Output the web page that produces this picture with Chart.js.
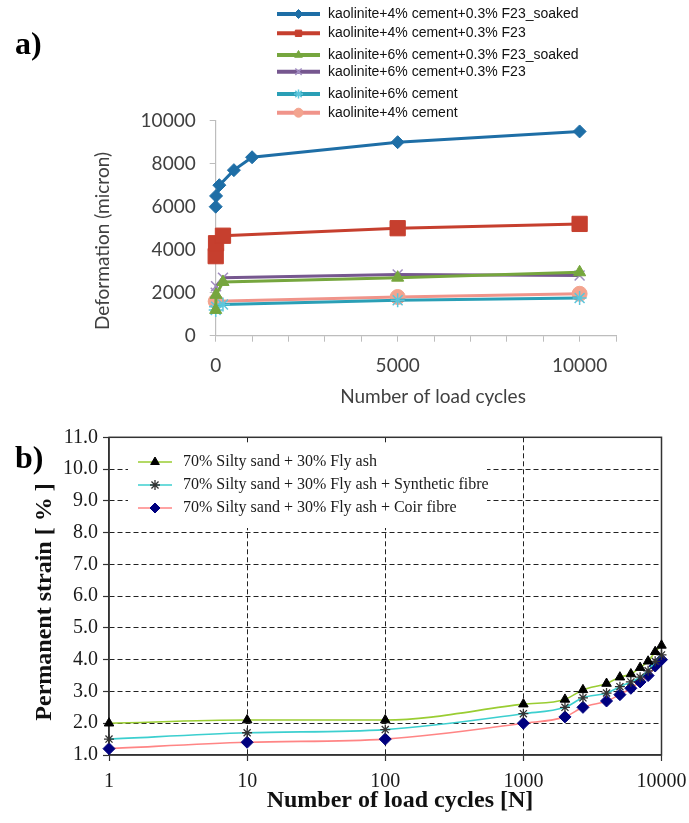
<!DOCTYPE html>
<html>
<head>
<meta charset="utf-8">
<title>Deformation and permanent strain vs load cycles</title>
<script src="https://cdn.jsdelivr.net/npm/chart.js"></script>
<style>
  html, body { margin: 0; padding: 0; background: #fff; }
  #page { position: relative; width: 689px; height: 823px; overflow: hidden; }
  canvas { position: absolute; left: 0; }
  #chartA { top: 0; }
  #chartB { top: 410px; }
  .tag { position: absolute; left: 15px; font: bold 32px 'Liberation Serif', 'Times New Roman', serif; color: #000; line-height: 1; }
</style>
</head>
<body>
<div id="page">
  <canvas id="chartA" width="689" height="410"></canvas>
  <canvas id="chartB" width="689" height="413"></canvas>
  <div class="tag" style="top:27px">a)</div>
  <div class="tag" style="top:441px">b)</div>
</div>
<script>
// ---- a) deformation (micron) against number of load cycles ----
const soaked4Cycles = [0, 10, 100, 500, 1000, 5000, 10000];
const soaked4Deform = [6000, 6500, 7000, 7700, 8300, 9000, 9500];
const f23_4Cycles = [0, 10, 200, 5000, 10000];
const f23_4Deform = [3700, 4300, 4650, 5000, 5200];
const soaked6Cycles = [0, 10, 200, 5000, 10000];
const soaked6Deform = [1200, 1900, 2500, 2700, 2950];
const f23_6Cycles = [0, 10, 200, 5000, 10000];
const f23_6Deform = [2000, 2300, 2700, 2850, 2800];
const cement6Cycles = [0, 10, 200, 5000, 10000];
const cement6Deform = [1200, 1350, 1450, 1650, 1750];
const cement4Cycles = [0, 5000, 10000];
const cement4Deform = [1600, 1800, 1950];
const mixLabelsA = [
  'kaolinite+4% cement+0.3% F23_soaked',
  'kaolinite+4% cement+0.3% F23',
  'kaolinite+6% cement+0.3% F23_soaked',
  'kaolinite+6% cement+0.3% F23',
  'kaolinite+6% cement',
  'kaolinite+4% cement'
];
const cycleTicksA = [0, 1000, 2000, 3000, 4000, 5000, 6000, 7000, 8000, 9000, 10000, 11000];
const cycleLabelsA = [0, 5000, 10000];

// ---- b) permanent strain (%) against number of load cycles ----
const cyclesB = [1, 10, 100, 1000, 2000, 2700, 4000, 5000, 6000, 7000, 8000, 9000, 10000];
const strainFlyAsh = [2.0, 2.1, 2.1, 2.6, 2.75, 3.05, 3.25, 3.45, 3.55, 3.75, 3.95, 4.25, 4.45];
const strainSynthetic = [1.5, 1.7, 1.8, 2.3, 2.5, 2.8, 2.95, 3.15, 3.3, 3.45, 3.65, 3.95, 4.15];
const strainCoir = [1.2, 1.4, 1.5, 2.0, 2.2, 2.5, 2.7, 2.9, 3.1, 3.3, 3.5, 3.8, 4.0];
const mixLabelsB = [
  '70% Silty sand + 30% Fly ash',
  '70% Silty sand + 30% Fly ash + Synthetic fibre',
  '70% Silty sand + 30% Fly ash + Coir fibre'
];
const cycleTicksB = [1, 10, 100, 1000, 10000];

const SANS = 'Lato, "Open Sans", sans-serif';
const SERIF = '"Liberation Serif", "Times New Roman", serif';

function pairs(xs, ys) {
  return xs.map((x, i) => ({ x: x, y: ys[i] }));
}

// legend drawn inside the canvas at fixed spots, one row per dataset
function insetLegend(cfg) {
  return {
    id: 'insetLegend',
    afterDraw(chart) {
      const ctx = chart.ctx;
      ctx.save();
      if (cfg.box) {
        ctx.fillStyle = '#fff';
        ctx.fillRect(cfg.box[0], cfg.box[1], cfg.box[2], cfg.box[3]);
      }
      ctx.font = cfg.font;
      ctx.textAlign = 'left';
      ctx.textBaseline = 'middle';
      chart.data.datasets.forEach((ds, i) => {
        const y = cfg.rows[i];
        ctx.setLineDash([]);
        ctx.lineWidth = cfg.lineWidth;
        ctx.strokeStyle = ds.borderColor;
        ctx.beginPath();
        ctx.moveTo(cfg.x0, y);
        ctx.lineTo(cfg.x1, y);
        ctx.stroke();
        ctx.fillStyle = ds.pointBackgroundColor;
        ctx.strokeStyle = ds.pointBorderColor;
        ctx.lineWidth = ds.pointBorderWidth;
        Chart.helpers.drawPoint(ctx, {
          pointStyle: ds.pointStyle, rotation: 0,
          radius: cfg.markerRadius, borderWidth: ds.pointBorderWidth
        }, (cfg.x0 + cfg.x1) / 2, y);
        ctx.fillStyle = cfg.textColor;
        ctx.fillText(ds.label, cfg.textX, y);
      });
      ctx.restore();
    }
  };
}

// axis captions placed by hand (they sit a little off the plot centre)
function axisCaptions(items) {
  return {
    id: 'axisCaptions',
    afterDraw(chart) {
      const ctx = chart.ctx;
      items.forEach(it => {
        ctx.save();
        ctx.translate(it.x, it.y);
        ctx.rotate(it.angle || 0);
        ctx.font = it.font;
        ctx.fillStyle = it.color;
        ctx.textAlign = 'center';
        ctx.textBaseline = 'middle';
        ctx.fillText(it.text, 0, 0);
        ctx.restore();
      });
    }
  };
}

function seriesA(label, xs, ys, line, mark, style, radius, bw) {
  return {
    label: label,
    data: pairs(xs, ys),
    borderColor: line,
    backgroundColor: line,
    borderWidth: 3,
    pointStyle: style,
    pointRadius: radius,
    pointBackgroundColor: mark,
    pointBorderColor: mark,
    pointBorderWidth: bw,
    tension: 0
  };
}

const greyA = '#404040';

new Chart(document.getElementById('chartA'), {
  type: 'line',
  data: {
    datasets: [
      seriesA(mixLabelsA[0], soaked4Cycles, soaked4Deform, '#1e6ea6', '#1e6ea6', 'rectRot', 6.5, 1),
      seriesA(mixLabelsA[1], f23_4Cycles, f23_4Deform, '#c63f2e', '#c63f2e', 'rect', 10.8, 1),
      seriesA(mixLabelsA[2], soaked6Cycles, soaked6Deform, '#76a63e', '#76a63e', 'triangle', 7, 1),
      seriesA(mixLabelsA[3], f23_6Cycles, f23_6Deform, '#76578f', '#a08bc0', 'crossRot', 7, 1.5),
      seriesA(mixLabelsA[4], cement6Cycles, cement6Deform, '#2a9fb6', '#5cc6dc', 'star', 7, 1.5),
      seriesA(mixLabelsA[5], cement4Cycles, cement4Deform, '#f0948a', '#f3a48f', 'circle', 7.5, 1)
    ]
  },
  options: {
    responsive: false,
    animation: false,
    clip: false,
    layout: { padding: { left: 0, top: 120.7, right: 73, bottom: 0 } },
    plugins: { legend: { display: false }, tooltip: { enabled: false } },
    scales: {
      x: {
        type: 'linear',
        min: 0,
        max: 11000,
        afterFit: s => { s.height = 74.3; },
        afterBuildTicks: s => { s.ticks = cycleTicksA.map(v => ({ value: v })); },
        ticks: {
          autoSkip: false, maxRotation: 0, padding: 13, color: greyA,
          font: { family: SANS, size: 19 },
          callback: v => cycleLabelsA.includes(v) ? String(v) : ''
        },
        grid: { drawOnChartArea: false, tickLength: 6, color: '#bdbdbd' },
        border: { color: '#bdbdbd', width: 1.2 }
      },
      y: {
        min: 0,
        max: 10000,
        afterFit: s => { s.width = 215.7; },
        ticks: {
          stepSize: 2000, padding: 14, color: greyA,
          font: { family: SANS, size: 19 },
          callback: v => String(v)
        },
        grid: { drawOnChartArea: false, tickLength: 6, color: '#bdbdbd' },
        border: { color: '#bdbdbd', width: 1.2 }
      }
    }
  },
  plugins: [
    axisCaptions([
      { text: 'Number of load cycles', x: 433, y: 397, font: '19px ' + SANS, color: greyA },
      { text: 'Deformation (micron)', x: 103, y: 241, angle: -Math.PI / 2, font: '19px ' + SANS, color: greyA }
    ]),
    insetLegend({
      rows: [14, 33.3, 55, 71.7, 94, 112.7],
      x0: 277, x1: 320, textX: 328,
      lineWidth: 4, markerRadius: 4.5,
      font: '14px "Liberation Sans", Arial, sans-serif',
      textColor: '#111'
    })
  ]
});

// plot frame for b): solid box round the chart area
const plotFrame = {
  id: 'plotFrame',
  beforeDatasetsDraw(chart) {
    const { ctx, chartArea: a } = chart;
    ctx.save();
    ctx.strokeStyle = '#333';
    ctx.lineWidth = 1.5;
    ctx.strokeRect(a.left, a.top, a.right - a.left, a.bottom - a.top);
    ctx.restore();
  }
};

function seriesB(label, ys, line, mark, style, radius, bw) {
  return {
    label: label,
    data: pairs(cyclesB, ys),
    borderColor: line,
    backgroundColor: line,
    borderWidth: 1.6,
    pointStyle: style,
    pointRadius: radius,
    pointBackgroundColor: mark,
    pointBorderColor: mark,
    pointBorderWidth: bw,
    cubicInterpolationMode: 'monotone'
  };
}

const edgeB = (lo, hi) => c => (c.tick && (c.tick.value === lo || c.tick.value === hi)) ? 'rgba(0,0,0,0)' : '#222';

new Chart(document.getElementById('chartB'), {
  type: 'line',
  data: {
    datasets: [
      seriesB(mixLabelsB[0], strainFlyAsh, '#9acd32', '#000', 'triangle', 5.5, 1),
      seriesB(mixLabelsB[1], strainSynthetic, '#3ccfcf', '#333', 'star', 5, 1.3),
      seriesB(mixLabelsB[2], strainCoir, '#ff8585', '#00007f', 'rectRot', 6, 1)
    ]
  },
  options: {
    responsive: false,
    animation: false,
    clip: false,
    layout: { padding: { left: 0, top: 27.3, right: 27.5, bottom: 0 } },
    plugins: { legend: { display: false }, tooltip: { enabled: false } },
    scales: {
      x: {
        type: 'logarithmic',
        min: 1,
        max: 10000,
        // keep the "10000" label from pushing the plot edge inwards
        afterFit: s => { s.height = 68; s.paddingLeft = 0; s.paddingRight = 0; },
        afterBuildTicks: s => { s.ticks = cycleTicksB.map(v => ({ value: v })); },
        ticks: {
          autoSkip: false, maxRotation: 0, padding: 9, color: '#1a1a1a',
          font: { family: SERIF, size: 20 },
          callback: v => String(v)
        },
        grid: { color: edgeB(1, 10000), lineWidth: 1, tickLength: 6, tickColor: '#333', tickWidth: 1.2 },
        border: { color: '#333', width: 1.5, dash: [5, 3] }
      },
      y: {
        min: 1,
        max: 11,
        afterFit: s => { s.width = 109; },
        ticks: {
          stepSize: 1, padding: 5, color: '#1a1a1a',
          font: { family: SERIF, size: 20 },
          callback: v => v.toFixed(1)
        },
        grid: { color: edgeB(1, 11), lineWidth: 1, tickLength: 6, tickColor: '#333', tickWidth: 1.2 },
        border: { color: '#333', width: 1.5, dash: [5, 3] }
      }
    }
  },
  plugins: [
    plotFrame,
    axisCaptions([
      { text: 'Number of load cycles [N]', x: 400, y: 391, font: 'bold 24px ' + SERIF, color: '#111' },
      { text: 'Permanent strain [ % ]', x: 45, y: 192, angle: -Math.PI / 2, font: 'bold 24px ' + SERIF, color: '#111' }
    ]),
    insetLegend({
      box: [128, 35, 359, 83],
      rows: [52, 75, 98],
      x0: 138, x1: 172, textX: 183,
      lineWidth: 1.6, markerRadius: 5,
      font: '16px "Liberation Serif", "Times New Roman", serif',
      textColor: '#1a1a1a'
    })
  ]
});
</script>
</body>
</html>
